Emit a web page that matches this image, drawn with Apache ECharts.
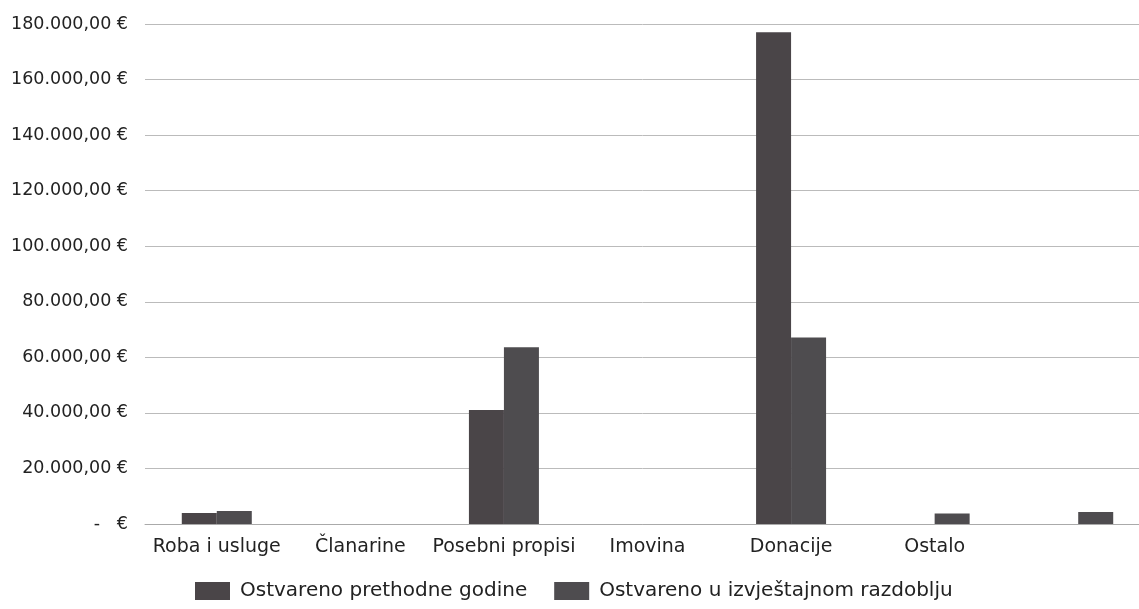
<!DOCTYPE html>
<html>
<head>
<meta charset="utf-8">
<script src="https://cdn.jsdelivr.net/npm/echarts@6/dist/echarts.min.js"></script>
<style>
  html, body { margin: 0; padding: 0; background: #fff; }
  #chart { width: 1139px; height: 609px; }
</style>
</head>
<body>
<div id="chart"></div>
<script>
var categories = ["Roba i usluge", "Članarine", "Posebni propisi", "Imovina", "Donacije", "Ostalo", ""];
var seriesNames = ["Ostvareno prethodne godine", "Ostvareno u izvještajnom razdoblju"];
var prevYear = [4000, 0, 41000, 0, 177000, 0, 0];
var currentPeriod = [4700, 0, 63600, 0, 67100, 3800, 4300];
var yTicks = { min: 0, max: 180000, interval: 20000 };

var chart = echarts.init(document.getElementById("chart"));

function euro(v) {
  if (v === 0) return "-   €";
  var s = String(v).replace(/\B(?=(\d{3})+(?!\d))/g, ".");
  return s + ",00 €";
}

var barColors = ["#4a4548", "#4e4c4f"];

var option = {
  animation: false,
  textStyle: { fontFamily: "DejaVu Sans" },
  grid: {
    left: 145,
    right: -11,
    top: 24,
    bottom: 85,
    outerBoundsMode: "none",
    containLabel: false
  },
  legend: {
    data: seriesNames,
    left: 195,
    top: 581,
    padding: 0,
    icon: "rect",
    itemWidth: 35,
    itemHeight: 18,
    itemGap: 27,
    textStyle: {
      fontFamily: "DejaVu Sans",
      fontSize: 20,
      color: "#222",
      padding: [0, 0, 0, 5]
    }
  },
  xAxis: {
    type: "category",
    data: categories,
    axisLine: { lineStyle: { color: "#aaa" } },
    axisTick: { show: false },
    axisLabel: {
      color: "#222",
      fontSize: 19,
      margin: 14,
      interval: 0
    }
  },
  yAxis: {
    type: "value",
    min: yTicks.min,
    max: yTicks.max,
    interval: yTicks.interval,
    axisLine: { show: false },
    axisTick: { show: false },
    splitLine: { lineStyle: { color: "#bbb", width: 1 } },
    axisLabel: {
      color: "#222",
      fontSize: 17.5,
      margin: 17,
      formatter: euro
    }
  },
  series: [
    {
      name: seriesNames[0],
      type: "bar",
      data: prevYear,
      barWidth: 35,
      barGap: "0%",
      itemStyle: { color: barColors[0] }
    },
    {
      name: seriesNames[1],
      type: "bar",
      data: currentPeriod,
      barWidth: 35,
      barGap: "0%",
      itemStyle: { color: barColors[1] }
    }
  ]
};

chart.setOption(option);
</script>
</body>
</html>
